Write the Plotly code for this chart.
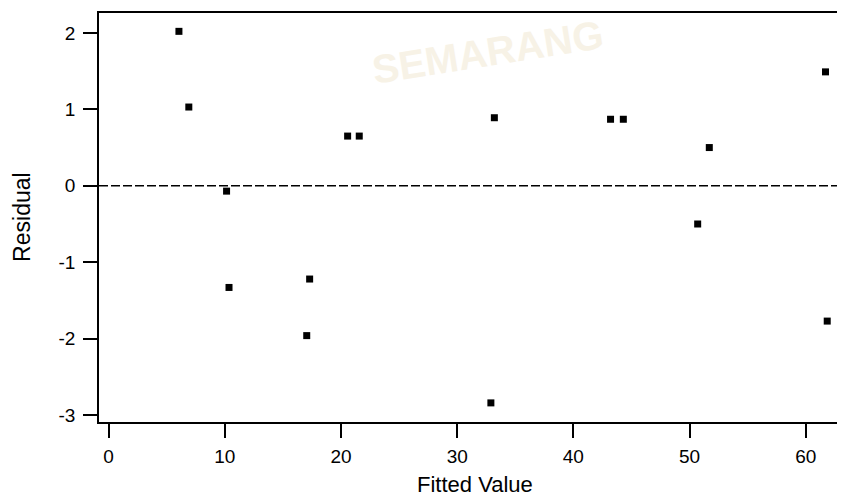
import plotly.graph_objects as go

# Data
fitted = [6.05, 6.9, 10.15, 10.36, 17.3, 17.05, 20.57, 21.57, 33.2, 32.9,
          43.2, 44.3, 51.7, 50.7, 61.7, 61.85]
residual = [2.02, 1.03, -0.07, -1.33, -1.22, -1.96, 0.65, 0.65, 0.89, -2.84,
            0.87, 0.87, 0.50, -0.50, 1.49, -1.77]
x_ticks = [0, 10, 20, 30, 40, 50, 60]
x_labels = ["0", "10", "20", "30", "40", "50", "60"]
y_ticks = [-3, -2, -1, 0, 1, 2]
y_labels = ["-3", "-2", "-1", "0", "1", "2"]
x_title = "Fitted Value"
y_title = "Residual"

FONT = "Liberation Sans, Arial, sans-serif"

fig = go.Figure()

# faint scan watermark
fig.add_annotation(text="<b>SEMARANG</b>", xref="paper", yref="paper",
                   x=0.521, y=0.905, xanchor="center", yanchor="middle",
                   showarrow=False, textangle=-9,
                   font=dict(family=FONT, size=40, color="#f7f2e6"))

fig.add_trace(go.Scatter(
    x=fitted, y=residual, mode="markers",
    marker=dict(symbol="square", size=7, color="black"),
    showlegend=False, hoverinfo="x+y",
))

fig.add_shape(type="line", xref="paper", yref="y", x0=0, x1=1, y0=0, y1=0,
              line=dict(color="black", width=1.5, dash="9px,3px"))

fig.add_annotation(text=x_title, xref="paper", yref="paper", x=0.504, y=-0.152,
                   xanchor="center", yanchor="middle", showarrow=False,
                   font=dict(family=FONT, size=22, color="black"))
fig.add_annotation(text=y_title, xref="paper", yref="paper", x=-0.1035, y=0.501,
                   xanchor="center", yanchor="middle", showarrow=False, textangle=-90,
                   font=dict(family=FONT, size=23, color="black"))

fig.update_layout(
    width=837, height=490,
    margin=dict(l=91, r=0, t=5, b=76),
    paper_bgcolor="white", plot_bgcolor="white",
    font=dict(family=FONT, size=19, color="black"),
    xaxis=dict(range=[-0.83, 63.38], tickvals=x_ticks, ticktext=x_labels,
               ticks="outside", ticklen=14,
               tickwidth=1.5, tickcolor="black", showline=True, linecolor="black",
               linewidth=1.5, mirror=True, showgrid=False, zeroline=False,
               ticklabelstandoff=2),
    yaxis=dict(range=[-3.09, 2.26], tickvals=y_ticks, ticktext=y_labels,
               ticks="outside", ticklen=14,
               tickwidth=1.5, tickcolor="black", showline=True, linecolor="black",
               linewidth=1.5, showgrid=False, zeroline=False,
               ticklabelstandoff=4),
)

fig.write_html("out.html")
